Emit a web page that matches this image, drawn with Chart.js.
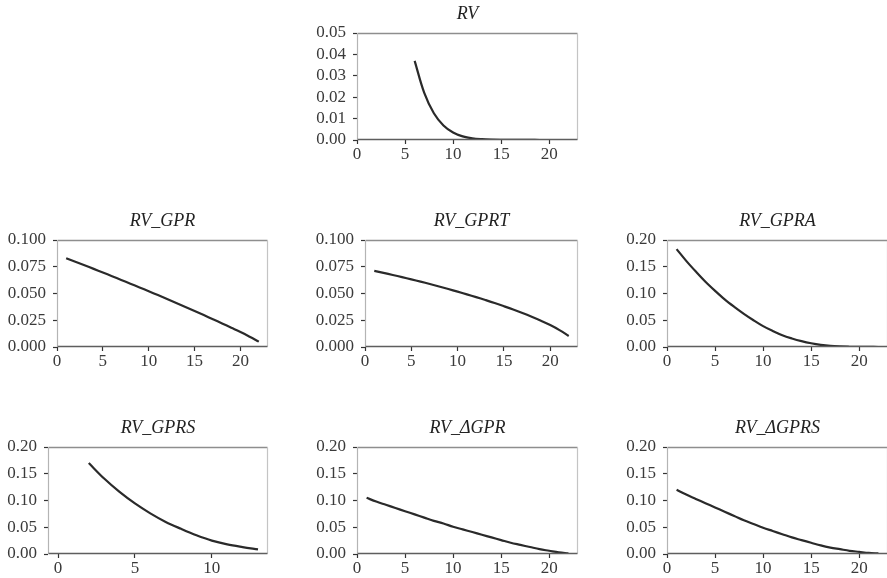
<!DOCTYPE html>
<html>
<head>
<meta charset="utf-8">
<script src="https://cdn.jsdelivr.net/npm/chart.js@4.4.1/dist/chart.umd.min.js"></script>
<style>
  html, body { margin: 0; padding: 0; background: #fff; }
  body { position: relative; width: 887px; height: 578px; overflow: hidden; }
  canvas { position: absolute; }
</style>
</head>
<body>
<canvas id="rv"></canvas>
<canvas id="gpr"></canvas>
<canvas id="gprt"></canvas>
<canvas id="gpra"></canvas>
<canvas id="gprs"></canvas>
<canvas id="dgpr"></canvas>
<canvas id="dgprs"></canvas>
<script>
// horizons (x) and values
const horizon = [1, 2, 3, 4, 5, 6, 7, 8, 9, 10, 11, 12, 13, 14, 15, 16, 17, 18, 19, 20, 21, 22];
const rvX = [6, 7, 8, 9, 10, 11, 12, 13, 14, 15, 16, 17, 18, 19, 20, 21, 22];
const gprsX = [2, 3, 4, 5, 6, 7, 8, 9, 10, 11, 12, 13];

const rvVals = [0.037, 0.022, 0.0125, 0.0068, 0.0035, 0.0017, 0.0008, 0.0004, 0.0002, 0.0001,
  0.00005, 0.00003, 0.00002, 0.00001, 0, 0, 0];
const gprVals = [0.083, 0.0797, 0.0764, 0.0730, 0.0696, 0.0662, 0.0627, 0.0592, 0.0557, 0.0521, 0.0485,
  0.0448, 0.0411, 0.0374, 0.0336, 0.0298, 0.0259, 0.0220, 0.0180, 0.0140, 0.0096, 0.0050];
const gprtVals = [0.0712, 0.0693, 0.0673, 0.0653, 0.0632, 0.0611, 0.0589, 0.0566, 0.0542, 0.0517, 0.0492,
  0.0466, 0.0439, 0.0411, 0.0381, 0.0350, 0.0317, 0.0282, 0.0245, 0.0205, 0.0158, 0.0103];
const gpraVals = [0.183, 0.161, 0.141, 0.122, 0.105, 0.089, 0.075, 0.062, 0.050, 0.039, 0.030,
  0.022, 0.016, 0.011, 0.007, 0.004, 0.002, 0.001, 0.0005, 0.0002, 0.0001, 0];
const gprsVals = [0.170, 0.141, 0.116, 0.0945, 0.076, 0.060, 0.047, 0.035, 0.025, 0.018, 0.013, 0.0087];
const dgprVals = [0.105, 0.098, 0.092, 0.086, 0.080, 0.074, 0.068, 0.062, 0.057, 0.051, 0.046,
  0.041, 0.036, 0.031, 0.026, 0.021, 0.017, 0.013, 0.009, 0.006, 0.003, 0.001];
const dgprsVals = [0.120, 0.111, 0.103, 0.095, 0.087, 0.079, 0.071, 0.063, 0.056, 0.049, 0.043,
  0.037, 0.031, 0.026, 0.021, 0.016, 0.012, 0.009, 0.006, 0.004, 0.002, 0.001];

// tick labels
const xTicksLong = [0, 5, 10, 15, 20];
const xTicksShort = [0, 5, 10];
const yTicksRV = [0, 0.01, 0.02, 0.03, 0.04, 0.05];
const yTicksGPR = [0, 0.025, 0.05, 0.075, 0.1];
const yTicksWide = [0, 0.05, 0.1, 0.15, 0.2];

const Y_AXIS_W = 60;
const X_AXIS_H = 26;
const TITLE_H = 30;
const PAD_R = 8;
const FONT = "'Liberation Serif', 'Times New Roman', serif";

// matplotlib-like frame: darker bottom spine, lighter top/left/right
const framePlugin = {
  id: "frame",
  afterDatasetsDraw(chart) {
    const a = chart.chartArea;
    const ctx = chart.ctx;
    const l = Math.round(a.left) + 0.5, r = Math.round(a.right) - 0.5;
    const t = Math.round(a.top) + 0.5, b = Math.round(a.bottom) - 0.5;
    const seg = (x1, y1, x2, y2, color, w) => {
      ctx.beginPath();
      ctx.strokeStyle = color;
      ctx.lineWidth = w;
      ctx.moveTo(x1, y1);
      ctx.lineTo(x2, y2);
      ctx.stroke();
    };
    ctx.save();
    seg(l, t, r, t, "#8e8e8e", 1.5);
    seg(r, t, r, b, "#c4c4c4", 1.2);
    seg(l, t, l, b, "#b4b4b4", 1.2);
    seg(l, b, r, b, "#5e5e5e", 1.5);
    ctx.restore();
  }
};

function makeChart(id, title, xs, ys, box, xMin, xMax, xTicks, yTicks, decimals) {
  const canvas = document.getElementById(id);
  canvas.width = Y_AXIS_W + box.w + PAD_R;
  canvas.height = TITLE_H + box.h + X_AXIS_H;
  canvas.style.left = (box.left - Y_AXIS_W) + "px";
  canvas.style.top = (box.top - TITLE_H) + "px";

  const points = xs.map((x, i) => ({ x: x, y: ys[i] }));

  return new Chart(canvas, {
    type: "line",
    data: {
      datasets: [{
        data: points,
        borderColor: "#2a2a2a",
        borderWidth: 2.2,
        pointRadius: 0,
        tension: 0.35,
        fill: false
      }]
    },
    options: {
      responsive: false,
      animation: false,
      devicePixelRatio: 1,
      layout: { padding: { left: 0, top: 0, right: PAD_R, bottom: 0 } },
      plugins: {
        legend: { display: false },
        tooltip: { enabled: false },
        title: {
          display: true,
          text: title,
          fullSize: false,
          color: "#222",
          font: { family: FONT, size: 18, style: "italic", weight: "normal", lineHeight: 1.2 },
          padding: { top: 0.4, bottom: 8 }
        }
      },
      scales: {
        x: {
          type: "linear",
          min: xMin,
          max: xMax,
          afterBuildTicks: (scale) => { scale.ticks = xTicks.map(v => ({ value: v })); },
          afterFit: (scale) => { scale.height = X_AXIS_H; },
          grid: { display: true, drawOnChartArea: false, drawTicks: true, tickLength: 4, tickColor: "#333", tickWidth: 1.2 },
          border: { display: false },
          ticks: {
            padding: 0,
            maxRotation: 0,
            autoSkip: false,
            color: "#3a3a3a",
            font: { family: FONT, size: 17 },
            callback: (v) => String(v)
          }
        },
        y: {
          min: 0,
          max: yTicks[yTicks.length - 1],
          afterBuildTicks: (scale) => { scale.ticks = yTicks.map(v => ({ value: v })); },
          afterFit: (scale) => { scale.width = Y_AXIS_W; },
          grid: { display: true, drawOnChartArea: false, drawTicks: true, tickLength: 4, tickColor: "#333", tickWidth: 1.2 },
          border: { display: false },
          ticks: {
            padding: 7,
            autoSkip: false,
            color: "#3a3a3a",
            font: { family: FONT, size: 17 },
            callback: (v) => Number(v).toFixed(decimals)
          }
        }
      }
    },
    plugins: [framePlugin]
  });
}

makeChart("rv", "RV", rvX, rvVals, { left: 357, top: 33, w: 221, h: 107 }, 0, 23, xTicksLong, yTicksRV, 2);
makeChart("gpr", "RV_GPR", horizon, gprVals, { left: 57, top: 240, w: 211, h: 107 }, 0, 23, xTicksLong, yTicksGPR, 3);
makeChart("gprt", "RV_GPRT", horizon, gprtVals, { left: 365, top: 240, w: 213, h: 107 }, 0, 23, xTicksLong, yTicksGPR, 3);
makeChart("gpra", "RV_GPRA", horizon, gpraVals, { left: 667, top: 240, w: 221, h: 107 }, 0, 23, xTicksLong, yTicksWide, 2);
makeChart("gprs", "RV_GPRS", gprsX, gprsVals, { left: 48, top: 447, w: 220, h: 107 }, -0.65, 13.65, xTicksShort, yTicksWide, 2);
makeChart("dgpr", "RV_\u0394GPR", horizon, dgprVals, { left: 357, top: 447, w: 221, h: 107 }, 0, 23, xTicksLong, yTicksWide, 2);
makeChart("dgprs", "RV_\u0394GPRS", horizon, dgprsVals, { left: 667, top: 447, w: 221, h: 107 }, 0, 23, xTicksLong, yTicksWide, 2);
</script>
</body>
</html>
